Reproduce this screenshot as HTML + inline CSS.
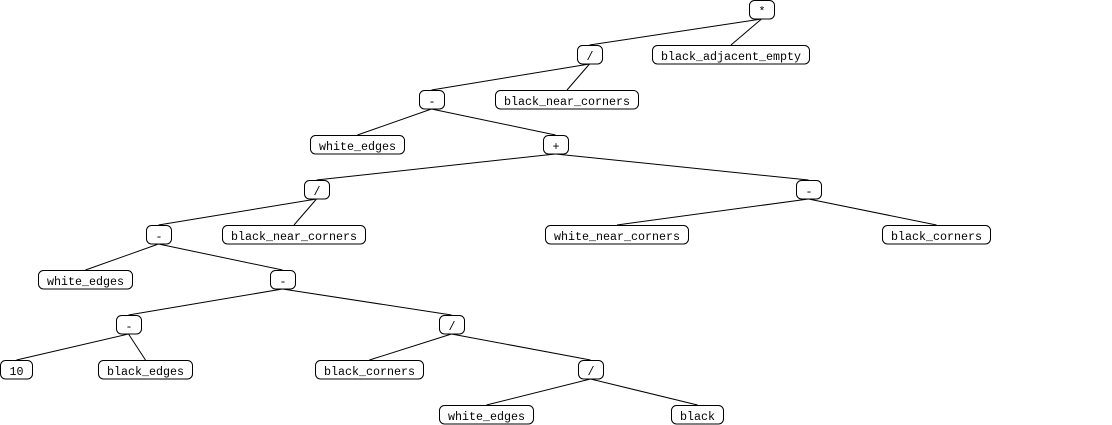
<!DOCTYPE html>
<html>
<head>
<meta charset="utf-8">
<style>
html,body{margin:0;padding:0;background:#fff;}
svg{display:block;}
text{font-family:"Liberation Mono","Courier New",monospace;font-size:11.67px;fill:#000;}
rect{fill:#fff;stroke:#000;stroke-width:1;}
line{stroke:#000;stroke-width:1;}
</style>
</head>
<body>
<svg width="1112" height="425" viewBox="0 0 1112 425" xmlns="http://www.w3.org/2000/svg">
<g id="edges">
<!-- * -> / , black_adjacent_empty -->
<line x1="761.5" y1="19" x2="589.5" y2="45"/>
<line x1="761.5" y1="19" x2="731" y2="45"/>
<!-- / -> - , black_near_corners -->
<line x1="589.5" y1="64" x2="431.5" y2="90"/>
<line x1="589.5" y1="64" x2="567" y2="90"/>
<!-- - -> white_edges, + -->
<line x1="431.5" y1="109" x2="357.5" y2="135"/>
<line x1="431.5" y1="109" x2="555.5" y2="135"/>
<!-- + -> / , - -->
<line x1="555.5" y1="154" x2="316.5" y2="180"/>
<line x1="555.5" y1="154" x2="808.5" y2="180"/>
<!-- / -> - , black_near_corners -->
<line x1="316.5" y1="199" x2="158.5" y2="225"/>
<line x1="316.5" y1="199" x2="294" y2="225"/>
<!-- - -> white_near_corners, black_corners -->
<line x1="808.5" y1="199" x2="617" y2="225"/>
<line x1="808.5" y1="199" x2="936.5" y2="225"/>
<!-- - -> white_edges, - -->
<line x1="158.5" y1="244" x2="85.5" y2="270"/>
<line x1="158.5" y1="244" x2="282.5" y2="270"/>
<!-- - -> - , / -->
<line x1="282.5" y1="289" x2="128.5" y2="315"/>
<line x1="282.5" y1="289" x2="451.5" y2="315"/>
<!-- - -> 10, black_edges -->
<line x1="128.5" y1="334" x2="16.5" y2="360"/>
<line x1="128.5" y1="334" x2="145.5" y2="360"/>
<!-- / -> black_corners, / -->
<line x1="451.5" y1="334" x2="369.5" y2="360"/>
<line x1="451.5" y1="334" x2="590.5" y2="360"/>
<!-- / -> white_edges, black -->
<line x1="590.5" y1="379" x2="486.5" y2="405"/>
<line x1="590.5" y1="379" x2="697.5" y2="405"/>
</g>
<g id="nodes">
<rect x="749.5" y="0.5" width="25" height="18.5" rx="5"/><text x="762" y="15" text-anchor="middle">*</text>
<rect x="577.5" y="45.5" width="25" height="18.5" rx="5"/><text x="590" y="60" text-anchor="middle">/</text>
<rect x="652.5" y="45.5" width="157" height="18.5" rx="5"/><text x="731" y="60" text-anchor="middle">black_adjacent_empty</text>
<rect x="419.5" y="90.5" width="25" height="18.5" rx="5"/><text x="432" y="105" text-anchor="middle">-</text>
<rect x="495.5" y="90.5" width="143" height="18.5" rx="5"/><text x="567" y="105" text-anchor="middle">black_near_corners</text>
<rect x="310.5" y="135.5" width="94" height="18.5" rx="5"/><text x="357.5" y="150" text-anchor="middle">white_edges</text>
<rect x="543.5" y="135.5" width="25" height="18.5" rx="5"/><text x="556" y="150" text-anchor="middle">+</text>
<rect x="304.5" y="180.5" width="25" height="18.5" rx="5"/><text x="317" y="195" text-anchor="middle">/</text>
<rect x="796.5" y="180.5" width="25" height="18.5" rx="5"/><text x="809" y="195" text-anchor="middle">-</text>
<rect x="146.5" y="225.5" width="25" height="18.5" rx="5"/><text x="159" y="240" text-anchor="middle">-</text>
<rect x="222.5" y="225.5" width="143" height="18.5" rx="5"/><text x="294" y="240" text-anchor="middle">black_near_corners</text>
<rect x="545.5" y="225.5" width="143" height="18.5" rx="5"/><text x="617" y="240" text-anchor="middle">white_near_corners</text>
<rect x="882.5" y="225.5" width="108" height="18.5" rx="5"/><text x="936.5" y="240" text-anchor="middle">black_corners</text>
<rect x="38.5" y="270.5" width="94" height="18.5" rx="5"/><text x="85.5" y="285" text-anchor="middle">white_edges</text>
<rect x="270.5" y="270.5" width="25" height="18.5" rx="5"/><text x="283" y="285" text-anchor="middle">-</text>
<rect x="116.5" y="315.5" width="25" height="18.5" rx="5"/><text x="129" y="330" text-anchor="middle">-</text>
<rect x="439.5" y="315.5" width="25" height="18.5" rx="5"/><text x="452" y="330" text-anchor="middle">/</text>
<rect x="0.5" y="360.5" width="32" height="18.5" rx="5"/><text x="16.5" y="375" text-anchor="middle">10</text>
<rect x="98.5" y="360.5" width="94" height="18.5" rx="5"/><text x="145.5" y="375" text-anchor="middle">black_edges</text>
<rect x="315.5" y="360.5" width="108" height="18.5" rx="5"/><text x="369.5" y="375" text-anchor="middle">black_corners</text>
<rect x="578.5" y="360.5" width="25" height="18.5" rx="5"/><text x="591" y="375" text-anchor="middle">/</text>
<rect x="439.5" y="405.5" width="94" height="18.5" rx="5"/><text x="486.5" y="420" text-anchor="middle">white_edges</text>
<rect x="671.5" y="405.5" width="52" height="18.5" rx="5"/><text x="697.5" y="420" text-anchor="middle">black</text>
</g>
</svg>
</body>
</html>
